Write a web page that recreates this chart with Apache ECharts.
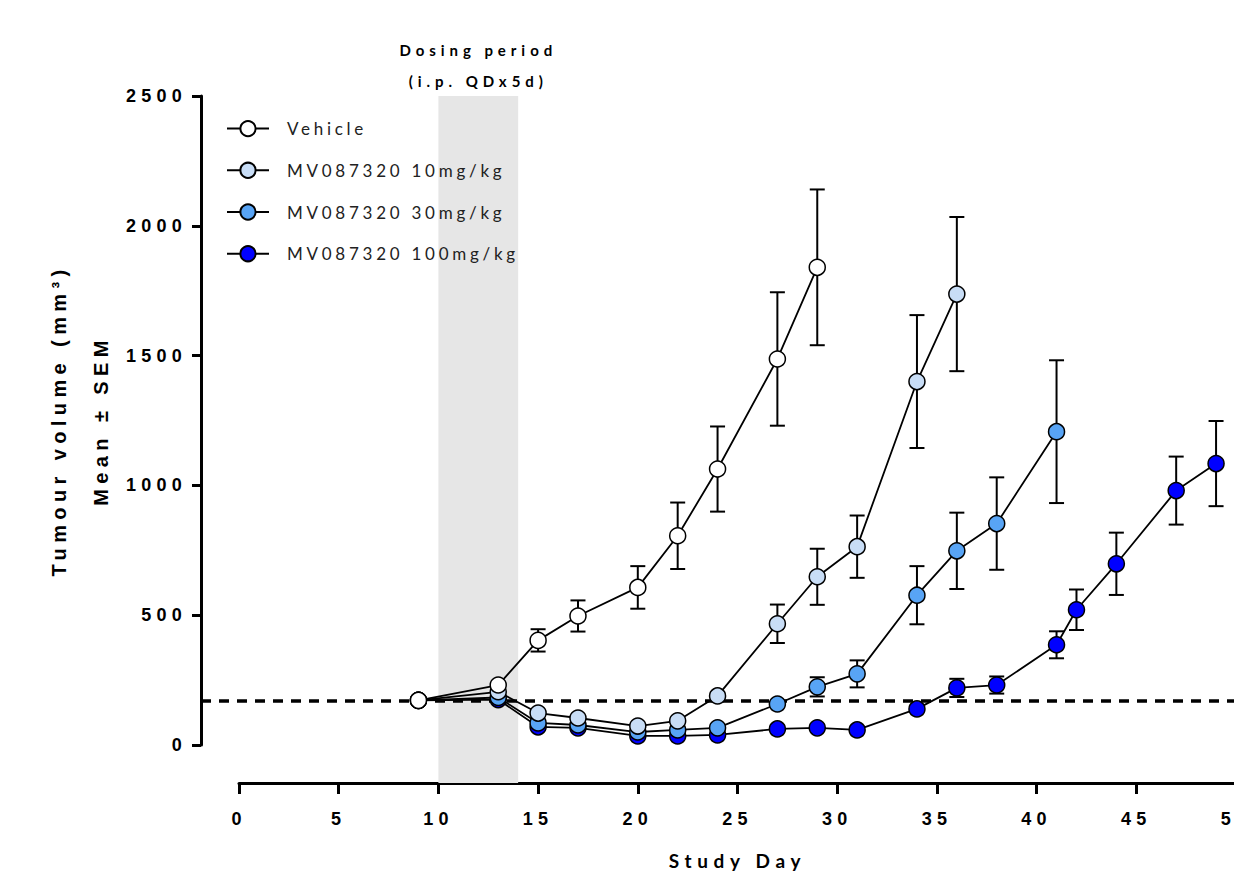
<!DOCTYPE html>
<html>
<head>
<meta charset="utf-8">
<script src="https://cdn.jsdelivr.net/npm/echarts@6/dist/echarts.min.js"></script>
<style>
html, body { margin: 0; padding: 0; background: #fff; }
#chart { width: 1234px; height: 880px; }
#chart text { letter-spacing: 0.28em; }
#chart text[style*="18px"] { letter-spacing: 0.29em; }
#chart text[style*="20px"] { letter-spacing: 0.27em; }
#chart text[style*="17px"] { letter-spacing: 0.22em; }
#chart text[style*="19px"] { letter-spacing: 0.3em; }
#chart text[style*="15px"] { letter-spacing: 0.33em; }
</style>
</head>
<body>
<div id="chart"></div>
<script>
// ---- data ----
const seriesNames = ['Vehicle', 'MV087320 10mg/kg', 'MV087320 30mg/kg', 'MV087320 100mg/kg'];

const vehicleDays = [9, 13, 15, 17, 20, 22, 24, 27, 29];
const vehicleMean = [172, 231, 403, 497, 607, 806, 1063, 1487, 1840];
const vehicleSem  = [0, 0, 43, 60, 82, 128, 164, 257, 300];

const mv10Days = [9, 13, 15, 17, 20, 22, 24, 27, 29, 31, 34, 36];
const mv10Mean = [172, 205, 123, 104, 73, 93, 189, 467, 648, 764, 1400, 1737];
const mv10Sem  = [0, 0, 0, 0, 0, 0, 0, 74, 108, 120, 256, 297];

const mv30Days = [9, 13, 15, 17, 20, 22, 24, 27, 29, 31, 34, 36, 38, 41];
const mv30Mean = [172, 183, 85, 77, 50, 58, 66, 158, 224, 274, 577, 748, 853, 1207];
const mv30Sem  = [0, 0, 0, 0, 0, 0, 0, 0, 37, 52, 112, 147, 178, 275];

const mv100Days = [9, 13, 15, 17, 20, 22, 24, 27, 29, 31, 34, 36, 38, 41, 42, 44, 47, 49];
const mv100Mean = [172, 175, 70, 66, 35, 35, 39, 62, 66, 58, 139, 220, 231, 386, 521, 698, 980, 1084];
const mv100Sem  = [0, 0, 0, 0, 0, 0, 0, 0, 0, 0, 0, 35, 33, 52, 78, 120, 131, 164];

const baselineVolume = 170;
const dosingStart = 10;
const dosingEnd = 14;

const yTickInterval = 500;
const xTickInterval = 5;

// ---- styling ----
const colors = ['#FFFFFF', '#C8DDF6', '#58A4F5', '#0000FF'];
const numFont = "'Liberation Sans', Arial, sans-serif";
const textFont = "Lato, 'Open Sans', sans-serif";

const groups = [
  { name: seriesNames[0], days: vehicleDays, mean: vehicleMean, sem: vehicleSem, color: colors[0] },
  { name: seriesNames[1], days: mv10Days, mean: mv10Mean, sem: mv10Sem, color: colors[1] },
  { name: seriesNames[2], days: mv30Days, mean: mv30Mean, sem: mv30Sem, color: colors[2] },
  { name: seriesNames[3], days: mv100Days, mean: mv100Mean, sem: mv100Sem, color: colors[3] }
];

function errRender(params, api) {
  const x = api.value(0);
  const pLo = api.coord([x, api.value(1)]);
  const pHi = api.coord([x, api.value(2)]);
  const w = 7.5;
  const st = { stroke: '#000', lineWidth: 2 };
  return {
    type: 'group',
    children: [
      { type: 'line', shape: { x1: pHi[0], y1: pHi[1], x2: pLo[0], y2: pLo[1] }, style: st },
      { type: 'line', shape: { x1: pHi[0] - w, y1: pHi[1], x2: pHi[0] + w, y2: pHi[1] }, style: st },
      { type: 'line', shape: { x1: pLo[0] - w, y1: pLo[1], x2: pLo[0] + w, y2: pLo[1] }, style: st }
    ]
  };
}

const series = [];

// shaded dosing period (in the axis grid so it reaches the x axis)
series.push({
  type: 'line',
  xAxisIndex: 1,
  yAxisIndex: 1,
  data: [],
  silent: true,
  z: 0,
  markArea: {
    silent: true,
    itemStyle: { color: '#E6E6E6' },
    label: {
      show: true,
      position: 'top',
      distance: 0,
      formatter: 'Dosing period\n(i.p. QDx5d)',
      fontFamily: textFont,
      fontWeight: 'bold',
      fontSize: 15,
      lineHeight: 31,
      color: '#000'
    },
    data: [[{ xAxis: dosingStart }, { xAxis: dosingEnd }]]
  }
});

// dashed baseline
series.push({
  type: 'line',
  xAxisIndex: 0,
  yAxisIndex: 0,
  data: [],
  silent: true,
  z: 1,
  markLine: {
    silent: true,
    symbol: 'none',
    label: { show: false },
    lineStyle: { color: '#000', width: 3.5, type: [10, 8] },
    data: [{ yAxis: baselineVolume }]
  }
});

// error bars and lines, drawn so Vehicle ends on top
groups.slice().reverse().forEach(function (g, k) {
  const errData = [];
  g.days.forEach(function (d, i) {
    if (g.sem[i] > 0) errData.push([d, g.mean[i] - g.sem[i], g.mean[i] + g.sem[i]]);
  });
  series.push({
    type: 'custom',
    name: g.name + ' SEM',
    xAxisIndex: 0,
    yAxisIndex: 0,
    renderItem: errRender,
    data: errData,
    z: 2 + k * 2,
    silent: true
  });
  series.push({
    type: 'line',
    name: g.name,
    xAxisIndex: 0,
    yAxisIndex: 0,
    data: g.days.map(function (d, i) { return [d, g.mean[i]]; }),
    symbol: 'circle',
    symbolSize: 16,
    itemStyle: { color: g.color, borderColor: '#000', borderWidth: 1.5 },
    lineStyle: { color: '#000', width: 1.8 },
    z: 3 + k * 2,
    silent: true
  });
});

const option = {
  animation: false,
  backgroundColor: '#fff',
  legend: {
    data: seriesNames,
    orient: 'vertical',
    left: 221,
    top: 115,
    itemWidth: 42,
    itemHeight: 19,
    itemGap: 24.5,
    selectedMode: false,
    textStyle: { fontFamily: textFont, fontSize: 17, color: '#222', padding: [0, 0, 0, 13] }
  },
  grid: [
    { left: 201, right: -2, top: 96, bottom: 135, outerBoundsMode: 'none', containLabel: false },
    { left: 239, right: -2, top: 96, bottom: 97, outerBoundsMode: 'none', containLabel: false }
  ],
  xAxis: [
    { gridIndex: 0, type: 'value', min: -38 / 19.94, max: 50, show: false },
    {
      gridIndex: 1, type: 'value', min: 0, max: 50, interval: xTickInterval,
      position: 'bottom',
      axisLine: { show: true, onZero: false, lineStyle: { color: '#000', width: 3 } },
      axisTick: { show: true, length: 11, lineStyle: { color: '#000', width: 3 } },
      axisLabel: {
        fontFamily: numFont, fontWeight: 'bold', fontSize: 18, color: '#000', margin: 27,
        showMaxLabel: true, formatter: function (v) { return String(v); }
      },
      splitLine: { show: false },
      name: 'Study Day',
      nameLocation: 'middle',
      nameGap: 68,
      nameTextStyle: { fontFamily: textFont, fontWeight: 'bold', fontSize: 19, color: '#000' }
    }
  ],
  yAxis: [
    {
      gridIndex: 0, type: 'value', min: 0, max: 2500, interval: yTickInterval,
      position: 'left',
      axisLine: { show: true, onZero: false, lineStyle: { color: '#000', width: 3 } },
      axisTick: { show: true, length: 9, lineStyle: { color: '#000', width: 3 } },
      axisLabel: {
        fontFamily: numFont, fontWeight: 'bold', fontSize: 18, color: '#000', margin: 14,
        formatter: function (v) { return String(v); }
      },
      splitLine: { show: false },
      name: 'Tumour volume (mm³)\nMean ± SEM',
      nameLocation: 'middle',
      nameGap: 79,
      nameRotate: 90,
      nameTextStyle: { fontFamily: numFont, fontWeight: 'bold', fontSize: 20, lineHeight: 42, color: '#000' }
    },
    { gridIndex: 1, type: 'value', min: 0, max: 1, show: false }
  ],
  series: series
};

const chart = echarts.init(document.getElementById('chart'), null, { renderer: 'svg' });
chart.setOption(option);
</script>
</body>
</html>
